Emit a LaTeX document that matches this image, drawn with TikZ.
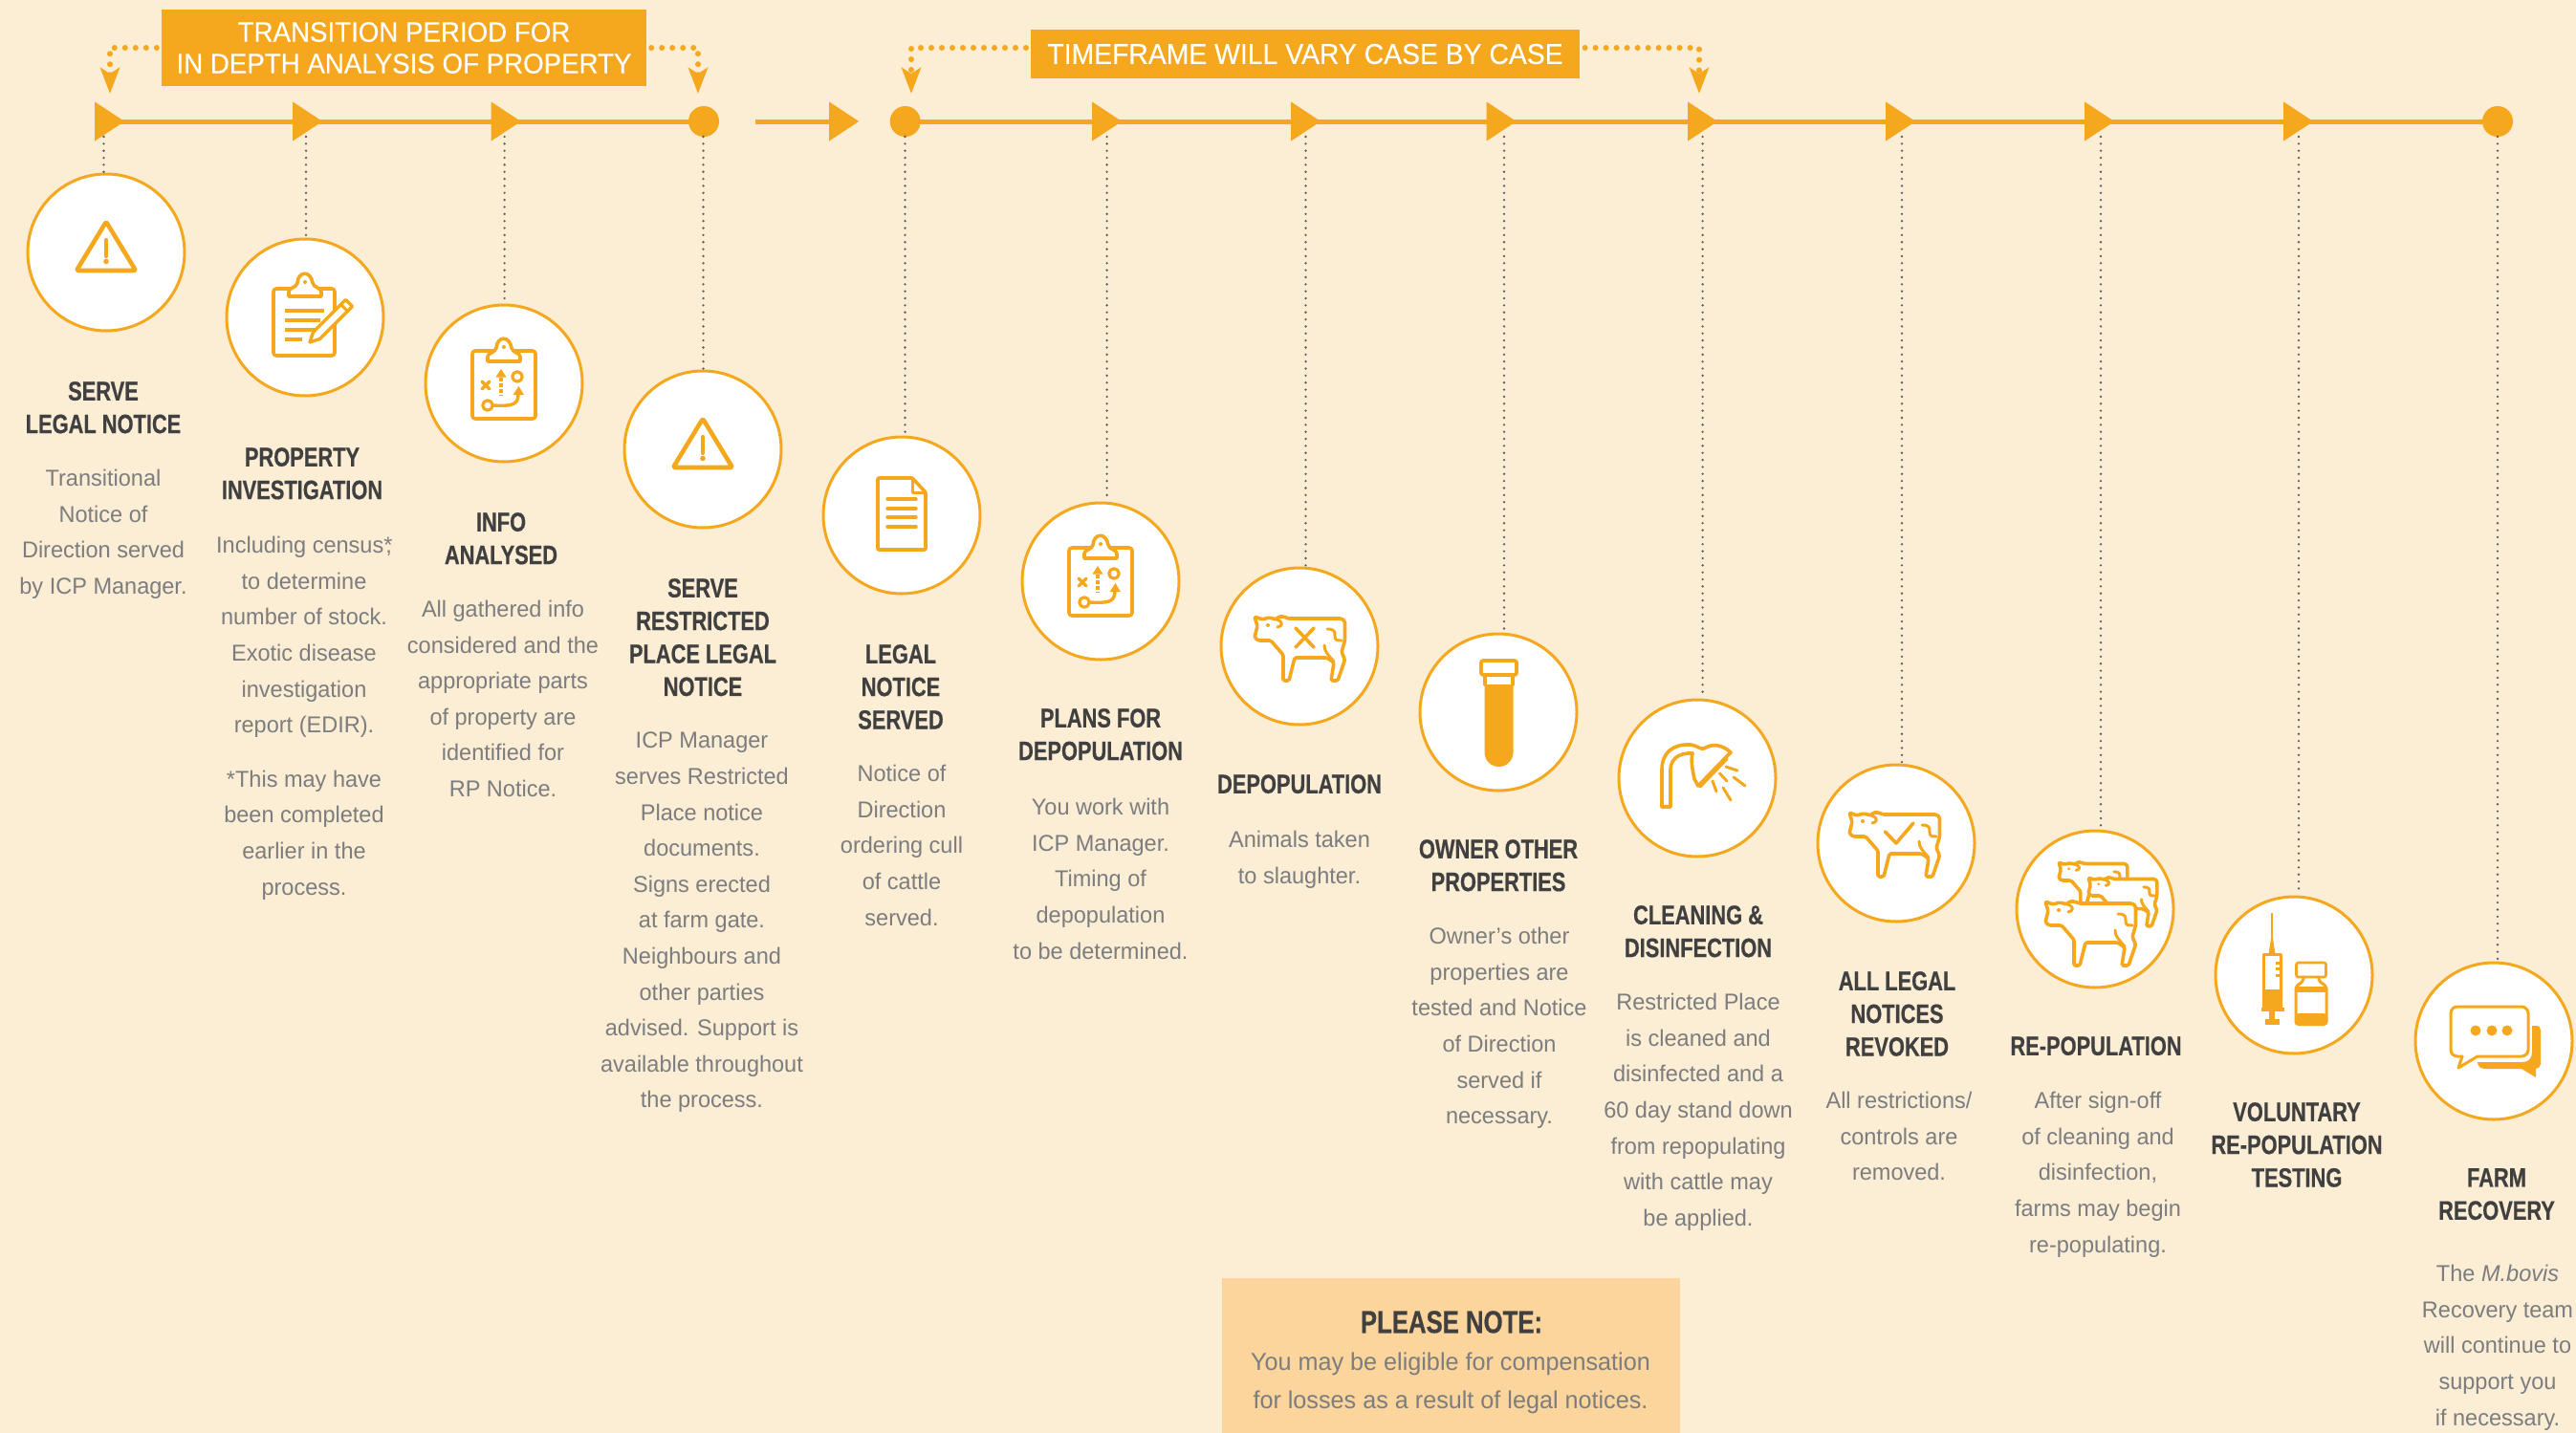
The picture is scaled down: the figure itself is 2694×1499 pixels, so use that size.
\documentclass[tikz,border=0pt]{standalone}
\usepackage{fontspec}
\usetikzlibrary{shapes.geometric,arrows.meta}
\setmainfont{Liberation Sans}
\newfontfamily\hdf{Liberation Sans}[FakeStretch=0.78,FakeBold=0.5]
\newfontfamily\bnf{Liberation Sans}[FakeStretch=0.945,FakeBold=0.25]
\newfontfamily\bdf{Liberation Sans}[FakeStretch=0.98]
\definecolor{bgc}{HTML}{FCEDD5}
\definecolor{org}{HTML}{F5A81D}
\definecolor{notec}{HTML}{FBD59B}
\definecolor{darkc}{HTML}{404040}
\definecolor{greyc}{HTML}{7C7D7F}
\tikzset{
  tri/.style={isosceles triangle,isosceles triangle stretches,minimum width=41pt,minimum height=31pt,inner sep=0pt,fill=org,anchor=lower side},
  dotn/.style={circle,minimum size=32pt,inner sep=0pt,fill=org},
  axis/.style={draw=org,line width=5pt},
  conn/.style={draw=darkc!85,line width=2.6pt,line cap=round,dash pattern=on 0pt off 7.35pt},
  bracket/.style={draw=org,line width=6pt,line cap=round,dash pattern=on 0pt off 11pt,-{Stealth[length=27pt,width=20pt,inset=6pt,fill=org]}},
  disc/.style={circle,minimum size=164pt,inner sep=0pt,fill=white,draw=org,line width=3pt},
  banner/.style={fill=org,text=white,inner sep=0pt,align=center,font=\bnf\fontsize{29.3pt}{33pt}\selectfont},
  head/.style={anchor=north,inner sep=0pt,align=center,text=darkc,font=\hdf\bfseries\fontsize{28pt}{34.4pt}\selectfont},
  body/.style={anchor=north,inner sep=0pt,align=center,text=greyc,font=\bdf\fontsize{24pt}{37.6pt}\selectfont},
  ico/.style={draw=org,line width=3.6pt,line join=round,line cap=round},
  warn/.pic={
    \draw[ico,line width=4.6pt,rounded corners=2pt] (0,-32) -- (31,19) -- (-31,19) -- cycle;
    \draw[ico,line width=4.2pt] (0,-13) -- (0,4);
    \fill[org] (0,9.5) circle (2.8pt);
  },
  clipt/.pic={
    \draw[ico,fill=white] (-17,0) -- (17,0) -- (17,-5) .. controls (17,-9) and (9,-9) .. (8,-14) .. controls (6,-27) and (-7,-27) .. (-8,-14) .. controls (-9,-9) and (-17,-9) .. (-17,-5) -- cycle;
    \fill[org] (0,-15) circle (2pt);
  },
  plan/.pic={
    \draw[ico,rounded corners=3pt] (-33,-34) rectangle (33,37);
    \pic at (0,-23) {clipt};
    \draw[ico,line width=3.2pt] (-23,-2) -- (-15,6) (-23,6) -- (-15,-2);
    \draw[ico,line width=3.2pt] (14,-7) circle (5.2pt) (-17,23) circle (5.2pt);
    \draw[ico,line width=3.2pt,line cap=butt,dash pattern=on 3.5pt off 2.5pt] (-3,-6) -- (-3,13);
    \fill[org] (-3,-15) -- (-8.5,-6.5) -- (2.5,-6.5) -- cycle;
    \draw[ico,line width=3.4pt] (-12,23) .. controls (8,24) and (15,23) .. (15,11);
    \fill[org] (15.5,3) -- (9.5,12) -- (21,12) -- cycle;
  },
  cow/.pic={
    \draw[ico,fill=white,rounded corners=1.5pt] (0,0) -- (3,10) -- (0,21.7) -- (4,25) -- (17,25) -- (30,40) -- (30,67) -- (36,67) -- (42,43) -- (75.5,43) -- (83,48) -- (80,67) -- (87,67) -- (94.5,45) -- (91,37) -- (94.5,25) -- (94.5,8) .. controls (94.5,4) and (92,2) .. (88,2) -- (35,2) -- (31,0) -- (25,0) -- (23,3) -- (15,1) -- (8,3) -- cycle;
    \draw[ico,line width=3pt] (23,3) .. controls (30,5) and (30,10) .. (24,11);
    \draw[ico,line width=3pt] (76,13) .. controls (84,13) and (84,16) .. (84,20) .. controls (84,25) and (86,25) .. (91,25);
    \draw[ico,line width=3pt] (73,30) .. controls (73,36) and (76,39) .. (83,47);
    \fill[org] (14,9) circle (2pt);
  }
}
\begin{document}
\begin{tikzpicture}[x=1pt,y=-1pt]
\useasboundingbox (0,0) rectangle (2694,1499);
\fill[bgc] (0,0) rectangle (2694,1499);

% timeline markers
\node[tri] (t1) at (99,127) {};
\node[tri] (t2) at (306,127) {};
\node[tri] (t3) at (513.5,127) {};
\node[dotn] (e1) at (736,127) {};
\coordinate (g1) at (790,127);
\node[tri] (t4) at (867,127) {};
\node[dotn] (e2) at (946.7,127) {};
\node[tri] (t5) at (1142,127) {};
\node[tri] (t6) at (1350,127) {};
\node[tri] (t7) at (1554.5,127) {};
\node[tri] (t8) at (1765,127) {};
\node[tri] (t9) at (1972,127) {};
\node[tri] (t10) at (2180,127) {};
\node[tri] (t11) at (2388,127) {};
\node[dotn] (e3) at (2612,127) {};
\draw[axis] (t1.center) -- (t2.center) -- (t3.center) -- (e1.center);
\draw[axis] (g1) -- (t4.center);
\draw[axis] (e2.center) -- (t5.center) -- (t6.center) -- (t7.center) -- (t8.center) -- (t9.center) -- (t10.center) -- (t11.center) -- (e3.center);

% discs
\foreach \n/\x/\y in {c1/111/264,c2/319/332,c3/527/401,c4/735/470,c5/943/539,c6/1151/608,c7/1359/676,c8/1567/745,c9/1775/814,c10/1983/882,c11/2191/951,c12/2399/1020,c13/2608/1089}
  \node[disc] (\n) at (\x,\y) {};

% dotted hangers
\foreach \c/\x in {c1/108.5,c2/320,c3/527.6,c4/735.5,c5/946.5,c6/1157.6,c7/1365.5,c8/1573,c9/1780.6,c10/1989,c11/2197,c12/2404,c13/2612}{
  \coordinate (d\c) at (\x,143);
  \draw[conn] (d\c) -- (d\c |- \c.north);
}

% banners
\node[banner,minimum width=507pt,minimum height=80pt] (b1) at (422.5,50) {TRANSITION PERIOD FOR\\IN DEPTH ANALYSIS OF PROPERTY};
\node[banner,minimum width=573.5pt,minimum height=51pt,font=\bnf\fontsize{30pt}{33pt}\selectfont] (b2) at (1365,56.5) {TIMEFRAME WILL VARY CASE BY CASE};
\coordinate (a1) at (115,98);
\coordinate (a2) at (730,98);
\coordinate (a3) at (953,98);
\coordinate (a4) at (1777,98);
\coordinate (s3) at (1073,50);
\coordinate (s4) at (1657.6,50);
\draw[bracket,shorten <=5pt] (b1.west) -| (a1);
\draw[bracket,shorten <=5pt] (b1.east) -| (a2);
\draw[bracket] (s3) -| (a3);
\draw[bracket] (s4) -| (a4);

% icons
\pic at (c1) {warn};
\pic at (c4) {warn};
\pic at (c3) {plan};
\pic at (1151,607) {plan};
% c2 clipboard + pencil
\begin{scope}[shift={(319,332)}]
  \draw[ico,rounded corners=3pt] (-33,-30) rectangle (31,40);
  \pic at (0,-22) {clipt};
  \draw[ico,line cap=butt,line width=4pt] (-21,-7) -- (20,-7) (-21,3) -- (16,3) (-21,13) -- (11,13) (-21,23) -- (-3,23);
  \draw[ico,fill=white,line width=3.4pt] (42.5,-18.5) -- (49.5,-11.5) -- (15.5,22.5) -- (5,26) -- (8.5,15.5) -- cycle;
  \draw[ico,line width=3pt] (37.5,-13.5) -- (44.5,-6.5);
\end{scope}
% c5 document
\draw[ico,rounded corners=1pt] (954,500) -- (918,500) -- (918,575) -- (968,575) -- (968,515) -- cycle;
\draw[ico,line width=3pt] (954,500) -- (954,515) -- (968,515);
\draw[ico,line width=3.4pt] (928,522) -- (958,522) (928,532) -- (958,532) (928,541) -- (958,541) (928,551) -- (958,551);
% c7 cow x
\pic at (1312,645) {cow};
\draw[ico] (1312+43,645+12) -- (1312+62,645+32) (1312+62,645+12) -- (1312+43,645+32);
% c8 test tube
\fill[org] (1552.5,716) -- (1582.5,716) -- (1582.5,787) arc[start angle=0,end angle=-180,radius=15pt] -- cycle;
\draw[ico] (1553,706) -- (1553,716) (1582,706) -- (1582,716);
\draw[ico,rounded corners=2pt] (1553,706) -- (1549,706) -- (1549,691) -- (1586,691) -- (1586,706) -- (1553,706);
% c9 shower
\draw[ico] (1738,844) -- (1747,844) -- (1747,805) .. controls (1747,795) and (1755,787) .. (1770,788);
\draw[ico] (1738,844) -- (1738,805) .. controls (1738,787) and (1750,778) .. (1768,779) .. controls (1775,780) and (1778,784) .. (1782,783) .. controls (1790,778) and (1800,778) .. (1810,787) -- (1776,822) -- (1772,815) .. controls (1770,805) and (1768,795) .. (1770,788);
\draw[ico,line width=3pt] (1806,794) -- (1778,823);
\draw[ico,line width=3pt] (1805,802) -- (1817,806) (1798.5,809) -- (1806,817) (1813,813) -- (1825,822) (1791,817) -- (1795,828) (1802,824) -- (1810,837);
% c10 cow check
\pic at (1934,850) {cow};
\draw[ico] (1934+37.5,850+20) -- (1934+49,850+32) -- (1934+67,850+11);
% c11 herd
\pic[scale=0.76] at (2153,902) {cow};
\pic[scale=0.76] at (2184,918) {cow};
\pic at (2139,943) {cow};
% c12 syringe and vial
\draw[org,line width=1.5pt] (2376,955) -- (2376,985);
\fill[org] (2376,975) -- (2379.5,998) -- (2372.5,998) -- cycle;
\draw[ico,line width=3pt] (2367.5,998) rectangle (2385.5,1055);
\fill[org] (2367,1035) rectangle (2386,1055);
\draw[ico,line width=3pt,line cap=butt] (2380,1007) -- (2386,1007) (2380,1013.5) -- (2386,1013.5) (2380,1020) -- (2386,1020);
\draw[ico,line width=3.5pt,line cap=butt] (2365,1056) -- (2389,1056);
\fill[org] (2373,1056) rectangle (2379,1068);
\fill[org] (2369,1066) rectangle (2384,1072);
\draw[ico,line width=2.6pt,rounded corners=2pt] (2401.5,1007) rectangle (2432.5,1022);
\draw[ico,line width=3pt,rounded corners=2pt] (2409,1022) -- (2409,1026) -- (2401,1032) -- (2401,1071) -- (2433,1071) -- (2433,1032) -- (2425,1026) -- (2425,1022);
\fill[org] (2400,1032) rectangle (2434,1038);
\fill[org,rounded corners=4pt] (2400,1060) rectangle (2434,1073);
% c13 speech bubbles
\fill[org] (2648,1073) -- (2652,1073) .. controls (2656,1073) and (2657,1075) .. (2657,1078) -- (2657,1113) .. controls (2657,1116) and (2654,1118) .. (2652,1118) -- (2652,1127) -- (2637,1118) -- (2599,1118) .. controls (2594,1118) and (2591,1115) .. (2591,1111) -- (2638,1111) .. controls (2645,1111) and (2648,1107) .. (2648,1100) -- cycle;
\draw[ico,line width=3pt,rounded corners=7pt] (2591,1105) -- (2644,1105) -- (2644,1053) -- (2563,1053) -- (2563,1105) -- (2575,1105);
\draw[ico,line width=3pt] (2575,1105) -- (2571,1117) -- (2591,1105);
\fill[org] (2589,1078) circle (5.5pt) (2606,1078) circle (5.5pt) (2622,1078) circle (5.5pt);

% headings
\node[head] (h1) at (108,399) {SERVE\\LEGAL NOTICE};
\node[head] (h2) at (316,468) {PROPERTY\\INVESTIGATION};
\node[head] (h3) at (524,536) {INFO\\ANALYSED};
\node[head] (h4) at (735,605) {SERVE\\RESTRICTED\\PLACE LEGAL\\NOTICE};
\node[head] (h5) at (942,674) {LEGAL\\NOTICE\\SERVED};
\node[head] (h6) at (1151,741) {PLANS FOR\\DEPOPULATION};
\node[head] (h7) at (1359,810) {DEPOPULATION};
\node[head] (h8) at (1567,878) {OWNER OTHER\\PROPERTIES};
\node[head] (h9) at (1776,947) {CLEANING \&\\DISINFECTION};
\node[head] (h10) at (1984,1016) {ALL LEGAL\\NOTICES\\REVOKED};
\node[head] (h11) at (2192,1084) {RE-POPULATION};
\node[head] (h12) at (2402,1153) {VOLUNTARY\\RE-POPULATION\\TESTING};
\node[head] (h13) at (2611,1222) {FARM\\RECOVERY};

% bodies
\node[body] (p1) at (108,491) {Transitional\\Notice of\\Direction served\\by ICP Manager.};
\node[body] (p2) at (318,561) {Including census*\kern-0.3em,\\to determine\\number of stock.\\Exotic disease\\investigation\\report (EDIR).\\[19pt]*This may have\\been completed\\earlier in the\\process.};
\node[body] (p3) at (526,628) {All gathered info\\considered and the\\appropriate parts\\of property are\\identified for\\RP Notice.};
\node[body] (p4) at (734,766) {ICP Manager\\serves Restricted\\Place notice\\documents.\\Signs erected\\at farm gate.\\Neighbours and\\other parties\\advised. Support is\\available throughout\\the process.};
\node[body] (p5) at (943,800) {Notice of\\Direction\\ordering cull\\of cattle\\served.};
\node[body] (p6) at (1151,835) {You work with\\ICP Manager.\\Timing of\\depopulation\\to be determined.};
\node[body] (p7) at (1359,869) {Animals taken\\to slaughter.};
\node[body] (p8) at (1568,970) {Owner’s other\\properties are\\tested and Notice\\of Direction\\served if\\necessary.};
\node[body] (p9) at (1776,1039) {Restricted Place\\is cleaned and\\disinfected and a\\60 day stand down\\from repopulating\\with cattle may\\be applied.};
\node[body] (p10) at (1986,1142) {All restrictions/\\controls are\\removed.};
\node[body] (p11) at (2194,1142) {After sign-off\\of cleaning and\\disinfection,\\farms may begin\\re-populating.};
\node[body] (p13) at (2612,1323) {The \textit{M.bovis}\\Recovery team\\will continue to\\support you\\if necessary.};

% note
\fill[notec] (1277.5,1337) rectangle (1757,1499);
\node[head,font=\hdf\bfseries\fontsize{33pt}{40pt}\selectfont] (n1) at (1518,1371) {PLEASE NOTE:};
\node[body,font=\bdf\fontsize{25.7pt}{40pt}\selectfont] (n2) at (1517,1415) {You may be eligible for compensation\\for losses as a result of legal notices.};
\end{tikzpicture}
\end{document}
